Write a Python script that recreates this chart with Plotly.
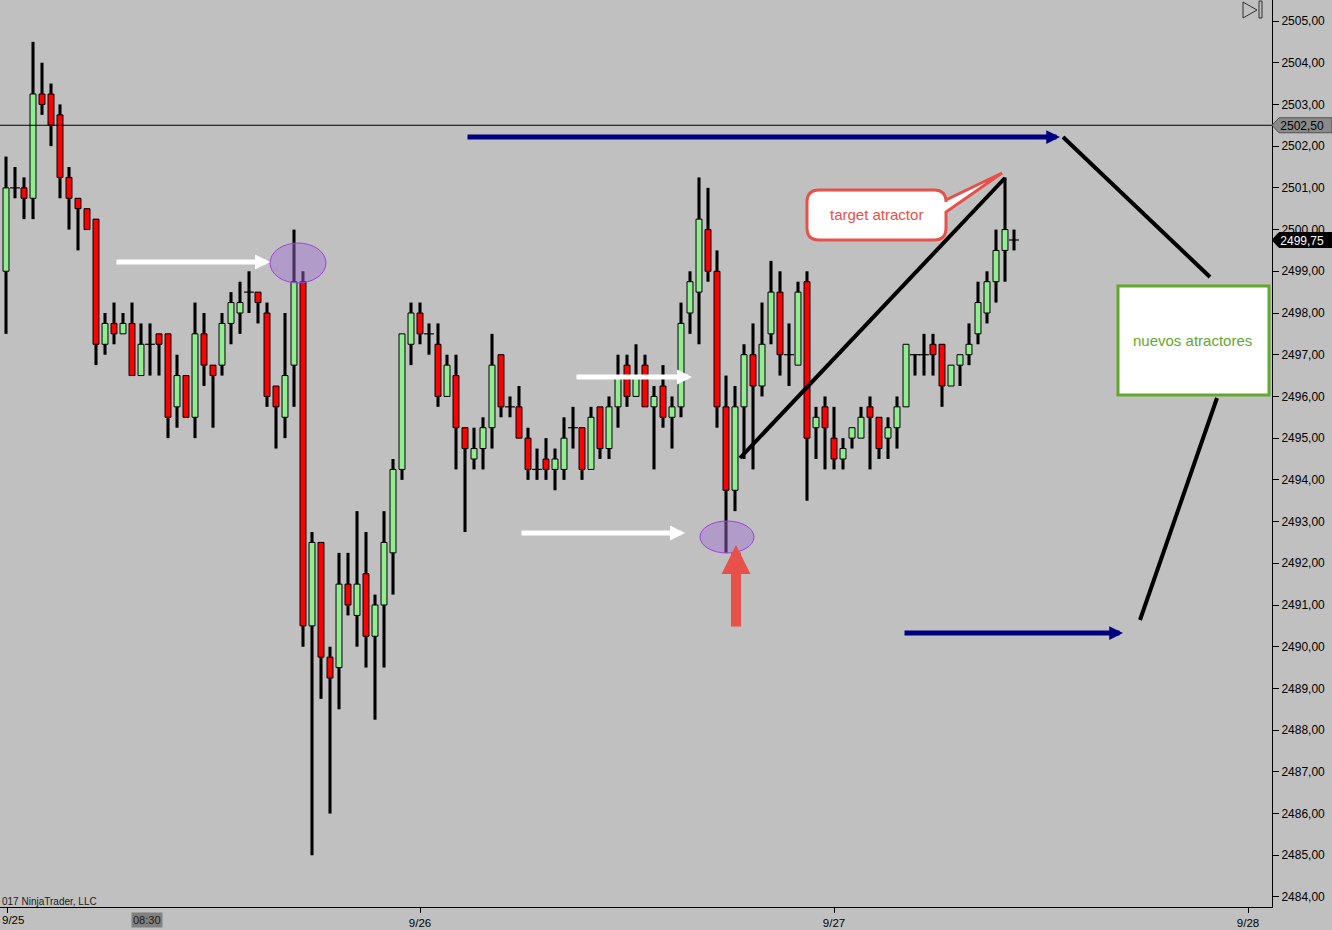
import plotly.graph_objects as go

# ---------------- data ----------------
date_tick_pos = [0.2, 46, 92, 138]
date_tick_text = ['9/25', '9/26', '9/27', '9/28']

open_ = [2499, 2501, 2501, 2500.75, 2503.25, 2503.25, 2502.75, 2501.25, 2500.75, 2500.5,
         2500.25, 2497.25, 2497.75, 2497.5, 2497.75, 2496.5, 2497.25, 2497.5, 2497.5, 2495.75,
         2496.5, 2495.5, 2497.5, 2496.75, 2496.75, 2497.75, 2498, 2498.5, 2498.5, 2498,
         2496.25, 2495.5, 2496.75, 2498.75, 2490.5, 2492.5, 2489.75, 2489.5, 2491.5, 2490.75,
         2491.75, 2490.25, 2491, 2492.25, 2494.25, 2497.25, 2498, 2497.5, 2497.25, 2496,
         2496.5, 2495.25, 2494.5, 2494.75, 2495.25, 2497, 2495.75, 2495.75, 2495, 2494.25,
         2494.5, 2494.25, 2494.25, 2495.25, 2495.25, 2494.25, 2495.75, 2494.75, 2495.75, 2496.75,
         2496, 2496.75, 2495.75, 2496.25, 2495.5, 2495.75, 2498, 2498.5, 2500, 2499,
         2495.75, 2493.75, 2495.75, 2497, 2496.25, 2497.5, 2498.5, 2497, 2496.75, 2498.75,
         2495.25, 2495.75, 2495, 2494.5, 2495, 2495, 2495.75, 2495.5, 2495, 2495.25,
         2495.75, 2497, 2497, 2497.25, 2497.25, 2496.25, 2496.75, 2497, 2497.5, 2498,
         2498.75, 2499.5, 2499.75]
high = [2501.75, 2501.5, 2501.25, 2504.5, 2504, 2503.5, 2503, 2501.5, 2500.75, 2500.5,
        2500.25, 2498, 2498.25, 2498, 2498.25, 2497.75, 2497.75, 2497.5, 2497.5, 2497,
        2496.5, 2498.25, 2498, 2496.75, 2498, 2498.5, 2498.75, 2499, 2498.5, 2498.25,
        2496.25, 2498, 2500, 2499, 2492.75, 2492.5, 2490, 2492.25, 2492.25, 2493.25,
        2492.75, 2491.25, 2493.25, 2494.5, 2497.5, 2498.25, 2498.25, 2497.75, 2497.75, 2497,
        2497, 2495.25, 2495.25, 2495.5, 2497.5, 2497, 2496, 2496.25, 2495.25, 2494.75,
        2495, 2494.75, 2495.5, 2495.75, 2495.25, 2495.75, 2495.75, 2496, 2497, 2497,
        2497.25, 2497, 2496.25, 2496.75, 2496, 2498.25, 2499, 2501.25, 2501, 2499.5,
        2496.5, 2496.25, 2497.25, 2497.75, 2498.25, 2499.25, 2499, 2497.75, 2498.75, 2499,
        2495.75, 2496, 2495.75, 2495, 2495.25, 2495.75, 2496, 2495.5, 2495.5, 2496,
        2497.25, 2497, 2497.5, 2497.5, 2497.25, 2496.75, 2497, 2497.75, 2498.75, 2499,
        2500, 2501.25, 2500]
low = [2497.5, 2500.75, 2500.25, 2500.25, 2502.75, 2502, 2500.75, 2500, 2499.5, 2500,
       2496.75, 2497, 2497.25, 2497.5, 2496.5, 2496.5, 2496.5, 2496.5, 2495, 2495.25,
       2495.5, 2495, 2496.25, 2495.25, 2496.5, 2497.25, 2497.5, 2498, 2497.75, 2495.75,
       2494.75, 2495, 2495.75, 2490, 2485, 2488.75, 2486, 2488.5, 2490.75, 2490,
       2489.5, 2488.25, 2489.5, 2491.25, 2494, 2496.75, 2497.25, 2497, 2495.75, 2496,
       2494.25, 2492.75, 2494.25, 2494.25, 2494.75, 2495.5, 2495.5, 2495, 2494, 2494,
       2494, 2493.75, 2494, 2494.75, 2494, 2494.25, 2494.5, 2494.5, 2495.25, 2495.75,
       2496, 2495.75, 2494.25, 2495.25, 2494.75, 2495.5, 2497.5, 2497.25, 2498.75, 2495.25,
       2492.25, 2493.25, 2494.5, 2494.25, 2496, 2497.25, 2496.5, 2496.25, 2496.75, 2493.5,
       2494.5, 2494.25, 2494.25, 2494.25, 2494.75, 2495, 2494.25, 2494.5, 2494.5, 2494.75,
       2495.75, 2496.5, 2496.5, 2496.5, 2495.75, 2496.25, 2496.25, 2496.75, 2497.25, 2497.75,
       2498.25, 2498.75, 2499.5]
close = [2501, 2501, 2500.75, 2503.25, 2503, 2502.5, 2501.25, 2500.75, 2500.5, 2500,
         2497.25, 2497.75, 2497.5, 2497.75, 2496.5, 2497.25, 2497.25, 2497.25, 2495.5, 2496.5,
         2495.5, 2497.5, 2496.75, 2496.5, 2497.75, 2498.25, 2498.25, 2498.5, 2498.25, 2496,
         2495.75, 2496.5, 2498.75, 2490.5, 2492.5, 2489.75, 2489.25, 2491.5, 2491, 2491.5,
         2490.25, 2491, 2492.5, 2494.25, 2497.5, 2498, 2497.5, 2497.5, 2496, 2496.75,
         2495.25, 2494.75, 2494.75, 2495.25, 2496.75, 2495.75, 2495.75, 2495, 2494.25, 2494.25,
         2494.25, 2494.5, 2495, 2495.25, 2494.25, 2495.5, 2494.75, 2495.75, 2496.5, 2496,
         2496.5, 2495.75, 2496, 2495.5, 2495.75, 2497.75, 2498.75, 2500.25, 2499, 2495.75,
         2493.75, 2495.75, 2497, 2496.25, 2497.25, 2498.5, 2497, 2497, 2498.5, 2495,
         2495.5, 2495.25, 2494.5, 2494.75, 2495.25, 2495.5, 2495.5, 2494.75, 2495.25, 2495.75,
         2497.25, 2497, 2497, 2497, 2496.25, 2496.75, 2497, 2497.25, 2498.25, 2498.75,
         2499.5, 2500, 2499.75]

last_price = 2499.75
ref_line_price = 2502.50

# ---------------- styling ----------------
BG = '#C0C0C0'
UP = '#90EE90'
DOWN = '#FF0000'
NAVY = '#000080'
ARROW_RED = '#E8504A'
PURPLE_FILL = 'rgba(160,110,210,0.45)'
PURPLE_LINE = '#A040E0'
GREEN_BOX = '#62A82C'
AX_FONT = 'Arial, Liberation Sans, sans-serif'
NARROW = 'Liberation Sans Narrow, Arial Narrow, Liberation Sans, sans-serif'

n = len(open_)
idx = list(range(n))

wick_base = low
wick_len = [h - l for h, l in zip(high, low)]

body_x, body_base, body_len, body_col = [], [], [], []
doji_x, doji_y = [], []
for i, (o, c) in enumerate(zip(open_, close)):
    if o == c:
        doji_x.append(i)
        doji_y.append(c)
    else:
        body_x.append(i)
        body_base.append(min(o, c))
        body_len.append(abs(c - o))
        body_col.append(UP if c > o else DOWN)

fig = go.Figure()
fig.add_trace(go.Bar(x=idx, y=wick_len, base=wick_base, width=0.34,
                     marker=dict(color='black', line=dict(width=0)),
                     hoverinfo='skip'))
fig.add_trace(go.Bar(x=body_x, y=body_len, base=body_base, width=0.66,
                     marker=dict(color=body_col, line=dict(color='black', width=1)),
                     hoverinfo='skip'))
fig.add_trace(go.Scatter(x=doji_x, y=doji_y, mode='markers',
                         marker=dict(symbol='line-ew', size=7,
                                     line=dict(color='black', width=1.2)),
                         hoverinfo='skip'))

# ---------------- pixel helpers for drawings ----------------
PX0, PXS = 6.0, 9.0           # candle 0 at x=6px, 9 px per bar
PY_TOP, PPX = 2505.0, 41.714  # 2505 at y=21px, px per point


def xi(px):
    return (px - PX0) / PXS


def yp(py):
    return PY_TOP - (py - 21) / PPX


shapes = []
annotations = []

# horizontal reference line
shapes.append(dict(type='line', xref='paper', yref='y', x0=0, x1=1, y0=ref_line_price,
                   y1=ref_line_price, line=dict(color='black', width=1), layer='above'))

# purple ellipses
for (cx, cy, rx, ry) in [(298, 263, 28, 20), (727, 537, 27, 16)]:
    shapes.append(dict(type='circle', xref='x', yref='y', x0=xi(cx - rx), x1=xi(cx + rx),
                       y0=yp(cy + ry), y1=yp(cy - ry), fillcolor=PURPLE_FILL,
                       line=dict(color=PURPLE_LINE, width=1), layer='above'))

# black trend lines
for (ax0, ay0, ax1, ay1) in [(1063, 137, 1210, 277), (1217, 398, 1140, 620), (740, 458, 1005, 178)]:
    shapes.append(dict(type='line', xref='x', yref='y', x0=xi(ax0), y0=yp(ay0),
                       x1=xi(ax1), y1=yp(ay1), line=dict(color='black', width=4),
                       layer='above'))

# callout box "target atractor"
bx0, bx1, by0, by1 = xi(807), xi(946), yp(190), yp(240)
rx, ry = 12 / PXS, 12 / PPX
tipx, tipy = xi(1002), yp(173)
p1y, p2y = yp(200), yp(212)
path = (f"M{bx0+rx},{by0} L{bx1-rx},{by0} Q{bx1},{by0} {bx1},{by0-ry} "
        f"L{bx1},{p1y} L{tipx},{tipy} L{bx1},{p2y} "
        f"L{bx1},{by1+ry} Q{bx1},{by1} {bx1-rx},{by1} L{bx0+rx},{by1} "
        f"Q{bx0},{by1} {bx0},{by1+ry} L{bx0},{by0-ry} Q{bx0},{by0} {bx0+rx},{by0} Z")
shapes.append(dict(type='path', xref='x', yref='y', path=path, fillcolor='white',
                   line=dict(color=ARROW_RED, width=3), layer='above'))
annotations.append(dict(x=xi(876), y=yp(214), xref='x', yref='y', text='target atractor',
                        showarrow=False, font=dict(family=AX_FONT, size=15, color=ARROW_RED)))

# green box "nuevos atractores"
shapes.append(dict(type='rect', xref='x', yref='y', x0=xi(1118), x1=xi(1269),
                   y0=yp(395), y1=yp(286), fillcolor='white',
                   line=dict(color=GREEN_BOX, width=3), layer='above'))
annotations.append(dict(x=xi(1192), y=yp(340), xref='x', yref='y', text='nuevos atractores',
                        showarrow=False, font=dict(family=AX_FONT, size=15, color=GREEN_BOX)))


# arrows
def arrow(x0, y0, x1, y1, color, width, size, head=2):
    annotations.append(dict(x=xi(x1), y=yp(y1), ax=xi(x0), ay=yp(y0), xref='x', yref='y',
                            axref='x', ayref='y', text='', showarrow=True,
                            arrowhead=head, arrowsize=size, arrowwidth=width,
                            arrowcolor=color, standoff=0))


arrow(466, 137, 1060, 137, NAVY, 5, 0.55)
arrow(903, 633, 1123, 633, NAVY, 5, 0.55)
arrow(115, 262, 270, 262, 'white', 5, 0.6)
arrow(575, 377, 692, 377, 'white', 5, 0.6)
arrow(520, 533, 685, 533, 'white', 5, 0.6)
arrow(736, 628, 736, 545, ARROW_RED, 10, 0.58)

# price tags on right axis
W = 1272.0
for price, fill, txtcol, edge in [(ref_line_price, '#8A8A8A', 'black', '#505050'),
                                  (last_price, 'black', 'white', 'black')]:
    h = 7.5 / PPX
    tag = (f"M1,{price} L{1279/W},{price+h} L{1332/W},{price+h} "
           f"L{1332/W},{price-h} L{1279/W},{price-h} Z")
    shapes.append(dict(type='path', xref='paper', yref='y', path=tag, fillcolor=fill,
                       line=dict(color=edge, width=1), layer='above',
                       label=dict(text=f"{price:.2f}".replace('.', ','),
                                  textposition='middle center',
                                  font=dict(family=AX_FONT, size=12, color=txtcol))))


# top-right icon
def pxp(px):
    return px / W


def pyp(py):
    return 1 - py / 907.0


shapes.append(dict(type='path', xref='paper', yref='paper',
                   path=f"M{pxp(1243)},{pyp(2)} L{pxp(1243)},{pyp(18)} L{pxp(1257)},{pyp(10)} Z",
                   line=dict(color='#303030', width=1), fillcolor='rgba(0,0,0,0)'))
shapes.append(dict(type='rect', xref='paper', yref='paper', x0=pxp(1259), x1=pxp(1262),
                   y0=pyp(18), y1=pyp(1), line=dict(color='#303030', width=1)))

# copyright
annotations.append(dict(x=0, y=yp(901), xref='paper', yref='y', xanchor='left',
                        text='017 NinjaTrader, LLC', showarrow=False,
                        font=dict(family=NARROW, size=10, color='#202020')))

# 08:30 highlighted time label
annotations.append(dict(x=xi(147), y=-0.005, xref='x', yref='paper', yanchor='top',
                        text='08:30', showarrow=False, bgcolor='#808080', borderpad=1,
                        font=dict(family=NARROW, size=11, color='#202020')))

# first date label at the left edge (plotly hides the tick label there)
annotations.append(dict(x=0, y=-0.005, xref='paper', yref='paper', yanchor='top',
                        xanchor='left', text=date_tick_text[0], showarrow=False,
                        font=dict(family=NARROW, size=11.5, color='black')))

fig.update_layout(
    width=1332, height=930,
    margin=dict(l=0, r=60, t=0, b=23),
    paper_bgcolor=BG, plot_bgcolor=BG,
    barmode='overlay', showlegend=False, separators=',.',
    shapes=shapes, annotations=annotations,
    xaxis=dict(range=[xi(0), xi(1272)], tickvals=date_tick_pos, ticktext=date_tick_text,
               showgrid=False, zeroline=False, showline=True, linecolor='black',
               linewidth=1, ticks='outside', ticklen=5, tickcolor='black',
               automargin=False,
               tickfont=dict(family=NARROW, size=11.5, color='black')),
    yaxis=dict(side='right', range=[yp(907), yp(0)], tick0=2484, dtick=1,
               tickformat='.2f', showgrid=False, zeroline=False, showline=True,
               linecolor='black', linewidth=1, ticks='outside', ticklen=6,
               automargin=False,
               tickcolor='black', tickfont=dict(family=AX_FONT, size=12, color='black')),
)

fig.write_html('out.html', config={'displayModeBar': False},
               post_script="document.body.style.margin='0';"
                           "document.documentElement.style.margin='0';")
